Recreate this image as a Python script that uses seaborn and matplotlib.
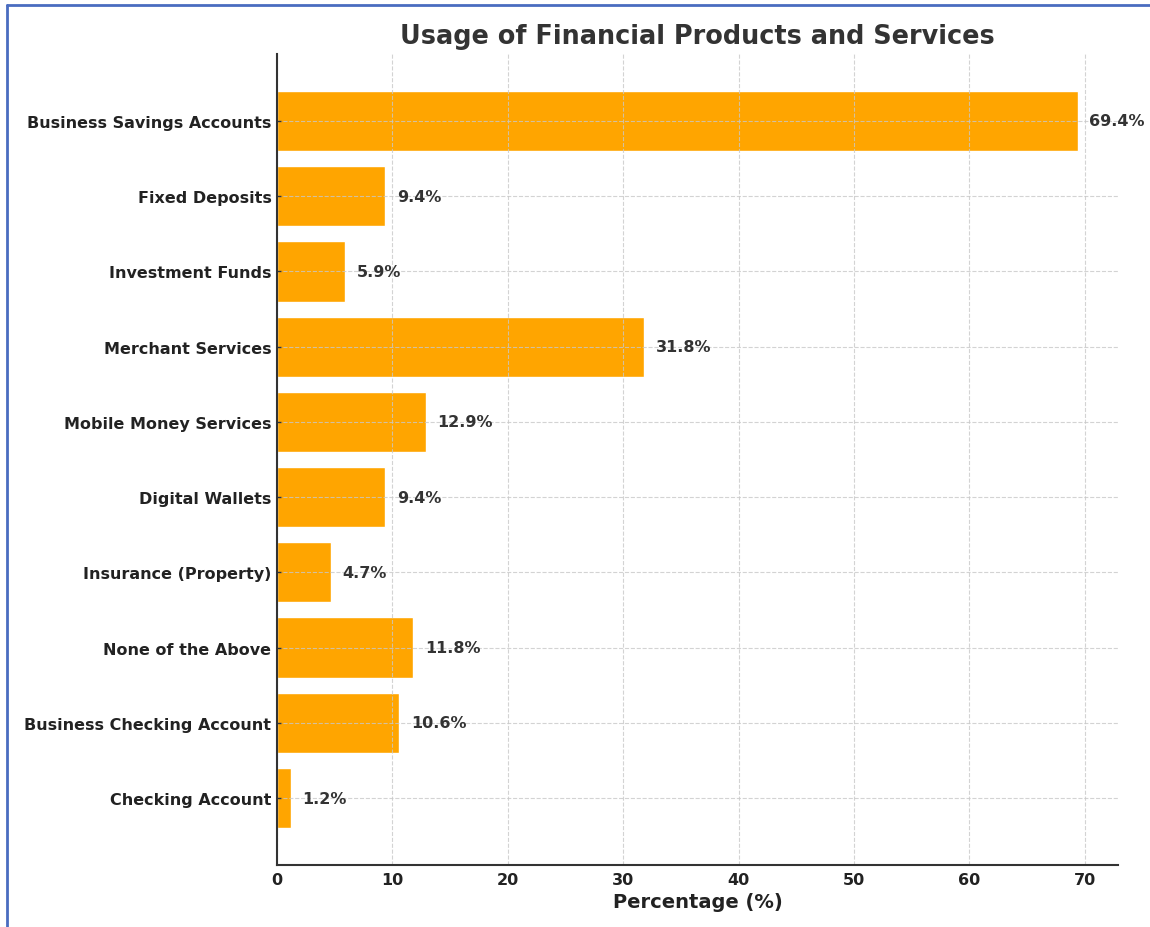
import matplotlib
matplotlib.use("Agg")
import matplotlib.pyplot as plt
from matplotlib.lines import Line2D
import seaborn as sns
import pandas as pd

categories = [
    "Business Savings Accounts",
    "Fixed Deposits",
    "Investment Funds",
    "Merchant Services",
    "Mobile Money Services",
    "Digital Wallets",
    "Insurance (Property)",
    "None of the Above",
    "Business Checking Account",
    "Checking Account",
]
percentages = [69.4, 9.4, 5.9, 31.8, 12.9, 9.4, 4.7, 11.8, 10.6, 1.2]

df = pd.DataFrame({"Product": categories, "Percentage": percentages})

sns.set_style("white")
plt.rcParams["font.family"] = ["DejaVu Sans"]

fig = plt.figure(figsize=(11.5, 9.28), dpi=100)
ax = fig.add_axes([277 / 1150, 1 - 866 / 928, (1118 - 277) / 1150, (866 - 55) / 928])

sns.barplot(data=df, x="Percentage", y="Product", color="#FFA500",
            saturation=1, width=0.8, orient="h", ax=ax)

n = len(categories)
ax.set_ylim(n - 1 + 0.4 + 0.49, -0.4 - 0.49)
ax.set_xlim(0, max(percentages) * 1.05)
ax.set_xticks(range(0, 80, 10))

# grid drawn on top of the bars
ax.set_axisbelow(False)
ax.grid(True, linestyle="--", color="#c8c8c8", linewidth=0.8, alpha=0.8)

for i, v in enumerate(percentages):
    ax.text(v + 1.0, i, f"{v}%", va="center", ha="left",
            fontsize=11.5, fontweight="bold", color="#333333")

ax.set_title("Usage of Financial Products and Services", fontsize=18.4,
             fontweight="bold", color="#333333", pad=8)
ax.set_xlabel("Percentage (%)", fontsize=14, fontweight="bold", color="#222222")
ax.set_ylabel("")
for lbl in ax.get_yticklabels() + ax.get_xticklabels():
    lbl.set_fontweight("bold")
    lbl.set_fontsize(11.5)
    lbl.set_color("#222222")

ax.tick_params(axis="y", length=3, width=1, color="#333333", direction="in",
               pad=4, left=True)
ax.tick_params(axis="x", length=0, pad=5, bottom=True)
for side in ("top", "right"):
    ax.spines[side].set_visible(False)
for side in ("left", "bottom"):
    ax.spines[side].set_color("#333333")
    ax.spines[side].set_linewidth(1.5)
    ax.spines[side].set_zorder(4)

# thin blue frame along the top and left edge of the canvas
fig.add_artist(Line2D([7 / 1150, 7 / 1150], [0, 1 - 6 / 928],
                      transform=fig.transFigure, color="#4a6cc0", linewidth=2))
fig.add_artist(Line2D([7 / 1150, 1], [1 - 6 / 928, 1 - 6 / 928],
                      transform=fig.transFigure, color="#4a6cc0", linewidth=2))

fig.savefig("out.png", dpi=100)
